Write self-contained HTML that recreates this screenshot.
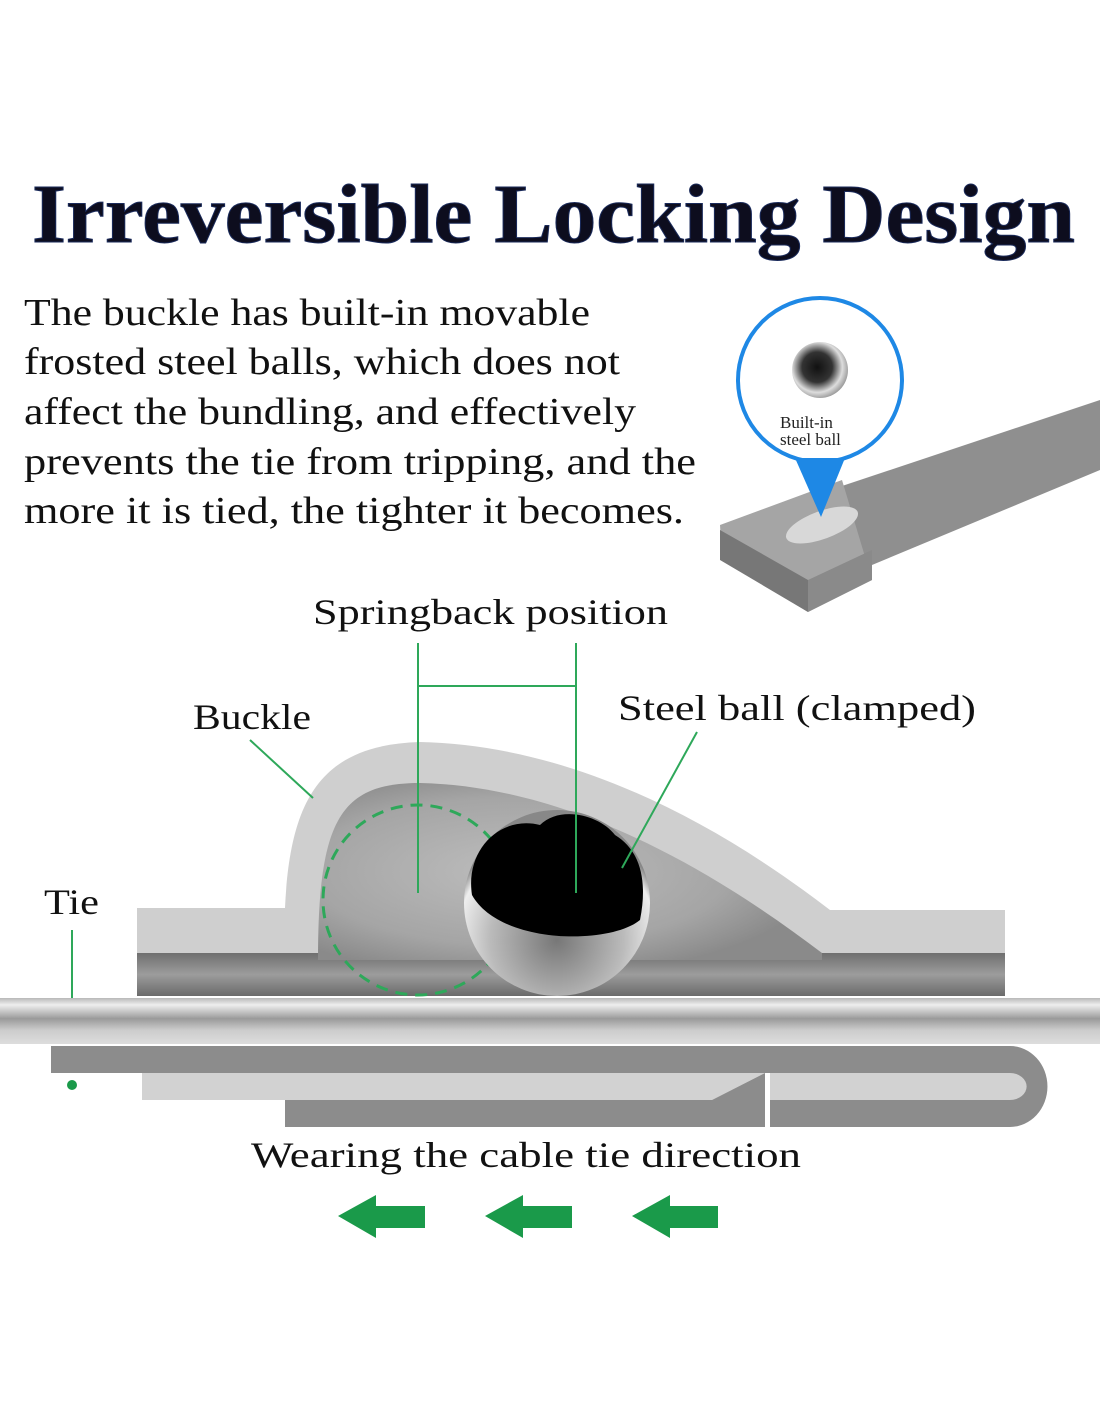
<!DOCTYPE html>
<html><head><meta charset="utf-8"><style>
html,body{margin:0;padding:0;background:#fff;}
svg{display:block;}
text{font-family:"Liberation Serif",serif;}
</style></head><body>
<svg width="1100" height="1422" viewBox="0 0 1100 1422" xmlns="http://www.w3.org/2000/svg">
<defs>
<radialGradient id="ball" cx="0.5" cy="0.7" r="0.6">
<stop offset="0" stop-color="#777"/><stop offset="0.6" stop-color="#bbb"/><stop offset="0.9" stop-color="#eee"/><stop offset="1" stop-color="#888"/>
</radialGradient>
<radialGradient id="sball" cx="0.45" cy="0.45" r="0.6">
<stop offset="0" stop-color="#111"/><stop offset="0.45" stop-color="#333"/><stop offset="0.75" stop-color="#ddd"/><stop offset="1" stop-color="#888"/>
</radialGradient>
<radialGradient id="cav" cx="0.4" cy="0.5" r="0.6">
<stop offset="0" stop-color="#bdbdbd"/><stop offset="0.7" stop-color="#a5a5a5"/><stop offset="1" stop-color="#8a8a8a"/>
</radialGradient>
<linearGradient id="inner" x1="0" y1="0" x2="0" y2="1">
<stop offset="0" stop-color="#6f6f6f"/><stop offset="0.5" stop-color="#9c9c9c"/><stop offset="1" stop-color="#6a6a6a"/>
</linearGradient>
<linearGradient id="strip" x1="0" y1="0" x2="0" y2="1">
<stop offset="0" stop-color="#b8b8b8"/><stop offset="0.15" stop-color="#eee"/><stop offset="0.45" stop-color="#9a9a9a"/><stop offset="0.7" stop-color="#ccc"/><stop offset="1" stop-color="#ddd"/>
</linearGradient>
</defs>

<text x="32" y="242" font-size="84" font-weight="bold" fill="#0d0d1e" textLength="1043" lengthAdjust="spacingAndGlyphs" stroke="#1a2a5a" stroke-width="1">Irreversible Locking Design</text>

<g font-size="38" fill="#111">
<text x="24" y="325" textLength="566" lengthAdjust="spacingAndGlyphs">The buckle has built-in movable</text>
<text x="24" y="374" textLength="596" lengthAdjust="spacingAndGlyphs">frosted steel balls, which does not</text>
<text x="24" y="424" textLength="612" lengthAdjust="spacingAndGlyphs">affect the bundling, and effectively</text>
<text x="24" y="474" textLength="672" lengthAdjust="spacingAndGlyphs">prevents the tie from tripping, and the</text>
<text x="24" y="523" textLength="660" lengthAdjust="spacingAndGlyphs">more it is tied, the tighter it becomes.</text>
</g>

<!-- photo -->
<polygon points="800,500 1100,400 1100,470 860,570" fill="#8f8f8f"/>
<polygon points="720,525 842,480 872,580 808,612 722,560" fill="#a5a5a5"/>
<polygon points="720,530 808,580 808,612 720,560" fill="#777"/>
<polygon points="808,580 872,550 872,580 808,612" fill="#8a8a8a"/>
<ellipse cx="822" cy="525" rx="38" ry="14" fill="#d8d8d8" transform="rotate(-20 822 525)"/>
<circle cx="820" cy="380" r="82" fill="#fff" stroke="#1e88e5" stroke-width="4"/>
<polygon points="795,458 845,458 821,517" fill="#1e88e5"/>
<circle cx="820" cy="370" r="28" fill="url(#sball)"/>
<text x="780" y="428" font-size="17" fill="#222">Built-in</text>
<text x="780" y="445" font-size="17" fill="#222">steel ball</text>

<!-- labels -->
<text x="313" y="624" font-size="36" fill="#111" textLength="355" lengthAdjust="spacingAndGlyphs">Springback position</text>
<text x="193" y="729" font-size="36" fill="#111" textLength="118" lengthAdjust="spacingAndGlyphs">Buckle</text>
<text x="618" y="720" font-size="36" fill="#111" textLength="358" lengthAdjust="spacingAndGlyphs">Steel ball (clamped)</text>
<text x="44" y="914" font-size="36" fill="#111" textLength="55" lengthAdjust="spacingAndGlyphs">Tie</text>

<!-- buckle -->
<path d="M137,908 L285,908 C290,800 320,745 420,742 C560,745 700,810 830,910 L1005,910 L1005,996 L137,996 Z" fill="#cfcfcf"/>
<rect x="137" y="953" width="868" height="43" fill="url(#inner)"/>
<path d="M318,960 C318,820 340,783 420,783 C560,786 700,860 822,953 L822,960 Z" fill="url(#cav)"/>
<circle cx="418" cy="900" r="95" fill="none" stroke="#2ea85a" stroke-width="3" stroke-dasharray="12,8"/>
<circle cx="557" cy="903" r="93" fill="url(#ball)"/>
<path d="M472,895 C465,850 500,815 540,825 C560,805 600,815 615,835 C640,850 648,880 640,920 C610,945 500,945 472,895 Z" fill="#000"/>

<!-- connectors -->
<g stroke="#2ea85a" stroke-width="2" fill="none">
<line x1="418" y1="643" x2="418" y2="893"/>
<line x1="576" y1="643" x2="576" y2="893"/>
<line x1="418" y1="686" x2="576" y2="686"/>
<line x1="250" y1="740" x2="313" y2="798"/>
<line x1="697" y1="732" x2="622" y2="868"/>
<line x1="72" y1="930" x2="72" y2="1012"/>
</g>
<circle cx="72" cy="1085" r="5" fill="#1a9a4a"/>

<!-- tie strip -->
<rect x="0" y="998" width="1100" height="46" fill="url(#strip)"/>

<!-- lower strap -->
<path d="M51,1046 L1010,1046 A37,40 0 0 1 1010,1127 L770,1127 L770,1073 L51,1073 Z" fill="#8c8c8c"/>
<path d="M770,1073 L1010,1073 A16,13 0 0 1 1010,1100 L770,1100 Z" fill="#d2d2d2"/>
<polygon points="142,1073 765,1073 712,1100 142,1100" fill="#d2d2d2"/>
<polygon points="285,1100 712,1100 765,1073 765,1127 285,1127" fill="#8c8c8c"/>

<text x="251" y="1167" font-size="36" fill="#111" textLength="550" lengthAdjust="spacingAndGlyphs">Wearing the cable tie direction</text>

<g fill="#1a9a4a">
<polygon points="338,1216 376,1195 376,1206 425,1206 425,1228 376,1228 376,1238"/>
<polygon points="485,1216 523,1195 523,1206 572,1206 572,1228 523,1228 523,1238"/>
<polygon points="632,1216 670,1195 670,1206 718,1206 718,1228 670,1228 670,1238"/>
</g>
</svg>
</body></html>
